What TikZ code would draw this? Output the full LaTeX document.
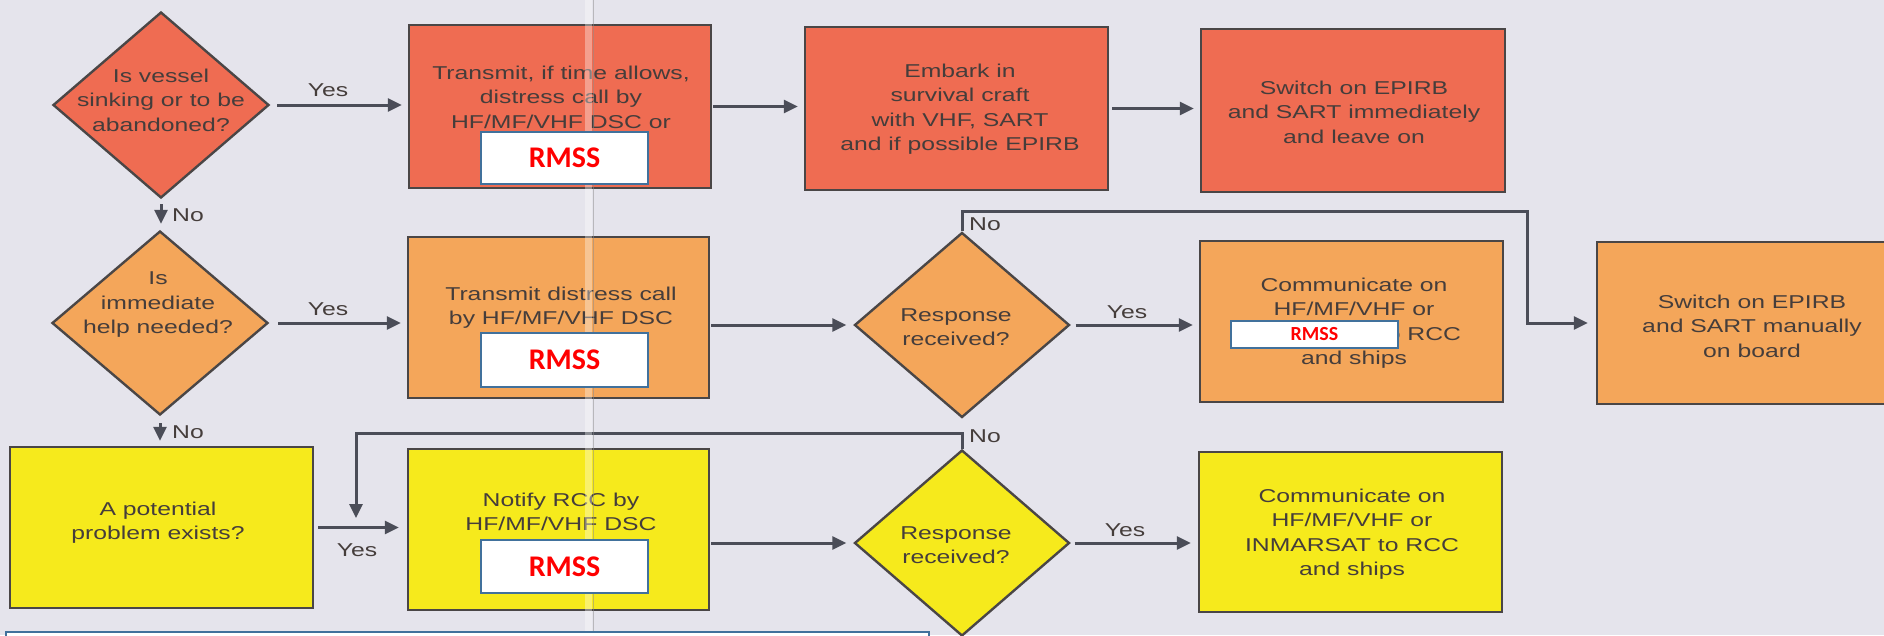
\documentclass[tikz,border=0pt]{standalone}
\usepackage{fontspec}
\usetikzlibrary{shapes.geometric,arrows.meta}
\newfontfamily\lab{Liberation Sans}[FakeStretch=1.33]
\newfontfamily\rmssfont{Carlito}
\definecolor{bgc}{HTML}{E5E4EC}
\definecolor{redc}{HTML}{EF6C52}
\definecolor{orangec}{HTML}{F4A65A}
\definecolor{yellowc}{HTML}{F6EA1C}
\definecolor{edgec}{HTML}{4A4646}
\definecolor{arrc}{HTML}{4B4D58}
\definecolor{txtc}{HTML}{453D3B}
\definecolor{rmssblue}{HTML}{41719C}
\begin{document}
\begin{tikzpicture}[x=1pt,y=-1pt,
  box/.style={draw=edgec, line width=2.4pt, inner sep=0pt},
  dia/.style={diamond, draw=edgec, line width=2.4pt, inner sep=0pt},
  txt/.style={font=\lab\fontsize{18.6}{24.5}\selectfont, text=txtc, align=center, inner sep=0pt},
  arr/.style={draw=arrc, line width=3pt, -{Triangle[length=14pt,width=13pt]}},
  rmss/.style={draw=rmssblue, line width=2pt, fill=white, text=red, font=\rmssfont\bfseries\fontsize{30}{30}\selectfont, inner sep=0pt},
]
\useasboundingbox (0,0) rectangle (1884,635);
\clip (0,0) rectangle (1884,635);
\fill[bgc] (0,0) rectangle (1884,635);

% diamonds
\node[dia, fill=redc, minimum width=216pt, minimum height=186pt] (d1) at (161,105) {};
\node[dia, fill=orangec, minimum width=216pt, minimum height=184pt] (d2) at (160,323) {};
\node[dia, fill=orangec, minimum width=215pt, minimum height=185pt] (d3) at (962,325) {};
\node[dia, fill=yellowc, minimum width=215pt, minimum height=186pt] (d4) at (962,543) {};

% boxes
\node[box, fill=redc, minimum width=302pt, minimum height=163pt] (b1) at (560,106.5) {};
\node[box, fill=redc, minimum width=303pt, minimum height=163pt] (b2) at (956.5,108.5) {};
\node[box, fill=redc, minimum width=304pt, minimum height=163pt] (b3) at (1353,110.5) {};
\node[box, fill=orangec, minimum width=301pt, minimum height=161pt] (b4) at (558.5,317.5) {};
\node[box, fill=orangec, minimum width=303pt, minimum height=161pt] (b5) at (1351.5,321.5) {};
\node[box, fill=orangec, minimum width=308pt, minimum height=162pt] (b6) at (1751,323) {};
\node[box, fill=yellowc, minimum width=303pt, minimum height=161pt] (b7) at (161.5,527.5) {};
\node[box, fill=yellowc, minimum width=301pt, minimum height=161pt] (b8) at (558.5,529.5) {};
\node[box, fill=yellowc, minimum width=303pt, minimum height=160pt] (b9) at (1350.5,532) {};

% texts
\node[txt] (t1) at (161,100) {Is vessel\\sinking or to be\\abandoned?};
\node[txt] (t2) at (158,305) {Is\\immediate\\help needed?};
\node[txt] (t3) at (956,327) {Response\\received?};
\node[txt] (t4) at (956,545) {Response\\received?};
\node[txt] (tb1) at (561,97) {Transmit, if time allows,\\distress call by\\HF/MF/VHF DSC or};
\node[txt] (tb2) at (960,109) {Embark in\\survival craft\\with VHF, SART\\and if possible EPIRB};
\node[txt] (tb3) at (1354,112) {Switch on EPIRB\\and SART immediately\\and leave on};
\node[txt] (tb4) at (561,307.5) {Transmit distress call\\by HF/MF/VHF DSC};
\node[txt] (tb5) at (1354,323) {Communicate on\\HF/MF/VHF or\\INMARSAT to RCC\\and ships};
\node[txt] (tb6) at (1752,326) {Switch on EPIRB\\and SART manually\\on board};
\node[txt] (tb7) at (158,522.5) {A potential\\problem exists?};
\node[txt] (tb8) at (561,512) {Notify RCC by\\HF/MF/VHF DSC};
\node[txt] (tb9) at (1352,534) {Communicate on\\HF/MF/VHF or\\INMARSAT to RCC\\and ships};

% connectors
\coordinate (n1) at (1527,211);
\coordinate (n2) at (356,433);
\coordinate (n3) at (356,518);
\draw[arr, shorten <=7pt, shorten >=6pt] (d1.east) -- (d1.east -| b1.west);
\draw[arr, shorten <=1pt, shorten >=6pt] (b1.east) -- (b1.east -| b2.west);
\draw[arr, shorten <=3pt, shorten >=6pt] (b2.east) -- (b2.east -| b3.west);
\draw[arr, shorten <=5pt, shorten >=6pt] (d1.south) -- (d1.south |- d2.north);
\draw[arr, shorten <=9pt, shorten >=6pt] (d2.east) -- (d2.east -| b4.west);
\draw[arr, shorten <=7pt, shorten >=5pt] (d2.south) -- (d2.south |- b7.north);
\draw[arr, shorten <=1pt, shorten >=7pt] (b4.east |- d3.west) -- (d3.west);
\draw[arr, shorten <=5pt, shorten >=6pt] (d3.east) -- (d3.east -| b5.west);
\draw[arr, shorten >=8pt] (d3.north) -- (d3.north |- n1) -- (n1) -- (n1 |- b6.west) -- (b6.west);
\draw[arr, shorten <=4pt, shorten >=8pt] (b7.east) -- (b7.east -| b8.west);
\draw[arr, shorten <=1pt, shorten >=7pt] (b8.east |- d4.west) -- (d4.west);
\draw[arr, shorten <=4pt, shorten >=7pt] (d4.east) -- (d4.east -| b9.west);
\draw[arr] (d4.north) -- (d4.north |- n2) -- (n2) -- (n3);

% labels
\node[txt] (y1) at (328,90) {Yes};
\node[txt] (y2) at (328,309) {Yes};
\node[txt] (y3) at (1127,312) {Yes};
\node[txt] (y4) at (357,550) {Yes};
\node[txt] (y5) at (1125,530) {Yes};
\node[txt, anchor=west] (no1) at (172,215) {No};
\node[txt, anchor=west] (no2) at (172,432) {No};
\node[txt, anchor=west] (no3) at (969,224) {No};
\node[txt, anchor=west] (no4) at (969,436) {No};

% paper fold
\fill[white, opacity=0.35] (585,0) rectangle (592,635);
\draw[black!45, line width=1.5pt, opacity=0.5] (593.5,0) -- (593.5,635);

% RMSS overlays
\node[rmss, minimum width=167pt, minimum height=52pt] (r1) at (564.5,158) {RMSS};
\node[rmss, minimum width=167pt, minimum height=54pt] (r2) at (564.5,360) {RMSS};
\node[rmss, minimum width=167pt, minimum height=53pt] (r3) at (564.5,566.5) {RMSS};
\node[rmss, minimum width=167pt, minimum height=27pt, font=\rmssfont\bfseries\fontsize{20}{20}\selectfont] (r4) at (1314.5,334.5) {RMSS};
\node[draw=rmssblue, line width=2pt, fill=white, minimum width=923pt, minimum height=30pt, inner sep=0pt] (bb) at (467.5,647) {};
\end{tikzpicture}
\end{document}
